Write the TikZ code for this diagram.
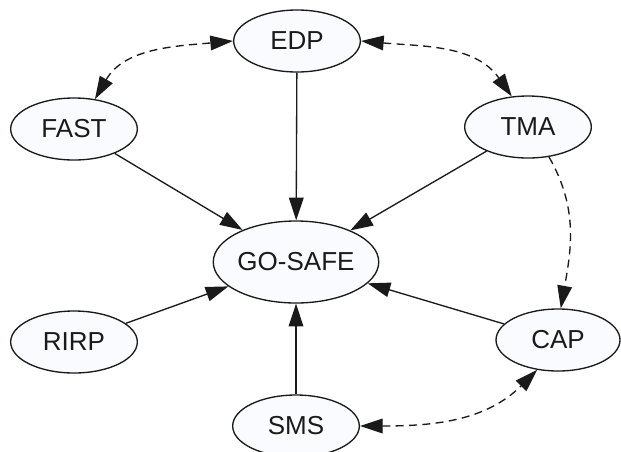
\documentclass[tikz,border=0pt]{standalone}
\usepackage{fontspec}
\setmainfont{Liberation Sans}
\usetikzlibrary{shapes.geometric,arrows.meta}
\definecolor{nodefill}{HTML}{F9FBFF}
\definecolor{ink}{HTML}{1A1A1A}
\begin{document}
\begin{tikzpicture}[x=0.75pt,y=-0.75pt,
  tip/.style={},
  oval/.style={ellipse,draw=ink,line width=1pt,fill=nodefill,inner sep=0pt,
    minimum width=95pt,minimum height=46.5pt,font=\fontsize{19.5}{22}\selectfont,text=ink},
  link/.style={draw=ink,line width=1pt,-{Triangle[length=17pt,width=11pt]}},
  duo/.style={draw=ink,line width=1pt,dash pattern=on 6pt off 4pt,
    {Triangle[length=17pt,width=11pt]}-{Triangle[length=17pt,width=11pt]}},
  uni/.style={draw=ink,line width=1pt,dash pattern=on 6pt off 4pt,
    -{Triangle[length=17pt,width=11pt]}}]
\useasboundingbox (0,0) rectangle (621,451);
\node[oval] (edp) at (297,41) {EDP};
\node[oval,minimum width=115.5pt,minimum height=61.5pt] (gosafe) at (296,262) {GO-SAFE};
\node[oval] (fast) at (74,129) {FAST};
\node[oval] (tma) at (528,127) {TMA};
\node[oval] (rirp) at (74,342) {RIRP};
\node[oval,minimum width=93pt] (cap) at (558,340) {CAP};
\node[oval] (sms) at (296,426) {SMS};
\draw[link] (edp) -- (gosafe);
\draw[link] (fast) -- (gosafe);
\draw[link] (tma) -- (gosafe);
\draw[link] (rirp) -- (gosafe);
\draw[link] (cap) -- (gosafe);
\draw[link] (sms) -- (gosafe);
\draw[duo] (fast.55) to[out=60,in=185] (edp.west);
\draw[duo] (edp.east) to[out=-5,in=125] (tma.118);
\draw[uni] (tma.-55) to[out=-60,in=80] (cap.85);
\draw[duo] (sms.east) to[out=0,in=225] (cap.-125);
\end{tikzpicture}
\end{document}
